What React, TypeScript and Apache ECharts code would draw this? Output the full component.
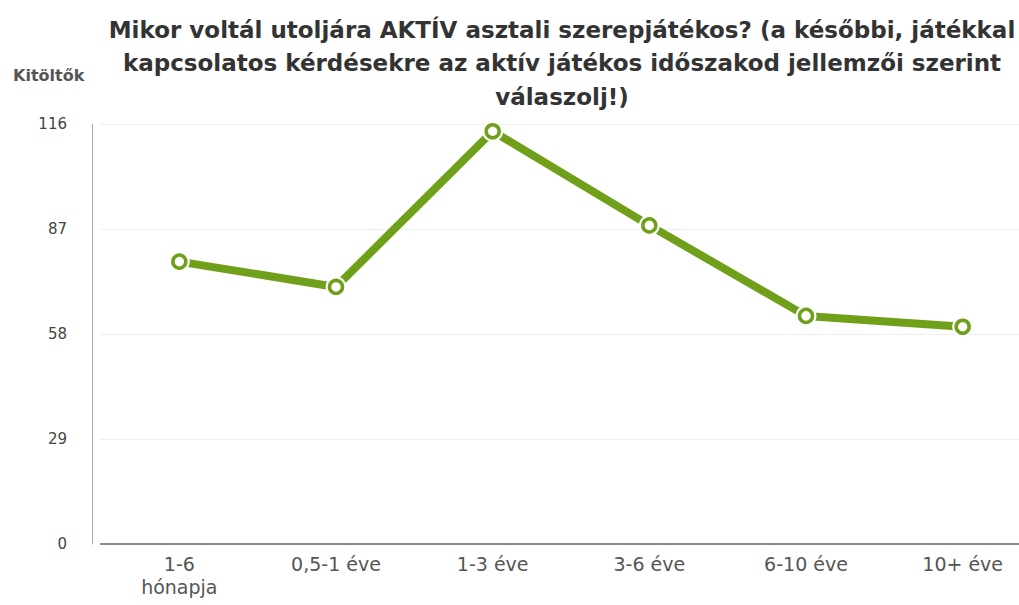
import React, { useEffect, useRef } from "react";
import * as echarts from "echarts";

const categories = ["1-6\nhónapja", "0,5-1 éve", "1-3 éve", "3-6 éve", "6-10 éve", "10+ éve"];
const values = [78, 71, 114, 88, 63, 60];
const yTicks = [0, 29, 58, 87, 116];
const titleText =
  "Mikor voltál utoljára AKTÍV asztali szerepjátékos? (a későbbi, játékkal\nkapcsolatos kérdésekre az aktív játékos időszakod jellemzői szerint\nválaszolj!)";
const yName = "Kitöltők";

const green = "#70a01a";

export default function App() {
  const ref = useRef<HTMLDivElement>(null);
  useEffect(() => {
    if (!ref.current) return;
    const chart = echarts.init(ref.current, undefined, { renderer: "svg" });
    chart.setOption({
      animation: false,
      backgroundColor: "#ffffff",
      title: [
        {
          text: titleText,
          left: 557,
          top: 8,
          textAlign: "center",
          textStyle: {
            fontFamily: "DejaVu Sans",
            fontWeight: "bold",
            fontSize: 23,
            lineHeight: 33.5,
            color: "#333333",
          },
        },
        {
          text: yName,
          left: 8,
          top: 62,
          textStyle: {
            fontFamily: "DejaVu Sans",
            fontWeight: "bold",
            fontSize: 16,
            color: "#555555",
          },
        },
      ],
      grid: {
        left: 101,
        width: 940,
        top: 124,
        bottom: 61,
        containLabel: false,
        outerBoundsMode: "none",
      },
      xAxis: {
        type: "category",
        data: categories,
        boundaryGap: true,
        axisLine: { lineStyle: { color: "#8a8a8a", width: 2 } },
        axisTick: { show: false },
        axisLabel: {
          fontFamily: "DejaVu Sans",
          fontSize: 19,
          color: "#555555",
          margin: 8,
          lineHeight: 23,
          interval: 0,
        },
        splitLine: { show: false },
      },
      yAxis: {
        type: "value",
        min: yTicks[0],
        max: yTicks[yTicks.length - 1],
        interval: yTicks[1] - yTicks[0],
        offset: 9,
        axisLine: { show: true, lineStyle: { color: "#aaaaaa", width: 1 } },
        axisTick: { show: false },
        axisLabel: {
          fontFamily: "DejaVu Sans",
          fontSize: 15,
          color: "#444444",
          margin: 25,
        },
        splitLine: { show: true, lineStyle: { color: "#eeeeee", width: 1 } },
      },
      series: [
        {
          type: "line",
          data: values,
          lineStyle: { color: green, width: 8 },
          showSymbol: false,
          symbol: "none",
        },
        {
          type: "line",
          data: values,
          lineStyle: { width: 0, opacity: 0 },
          symbol: "circle",
          symbolSize: 21,
          itemStyle: { color: "#ffffff", borderWidth: 0 },
        },
        {
          type: "line",
          data: values,
          lineStyle: { width: 0, opacity: 0 },
          symbol: "circle",
          symbolSize: 13,
          itemStyle: { color: "#ffffff", borderColor: green, borderWidth: 3.5 },
        },
      ],
    });
    return () => chart.dispose();
  }, []);
  return (
    <div
      ref={ref}
      style={{ position: "fixed", left: 0, top: 0, width: 1019, height: 605 }}
    />
  );
}
